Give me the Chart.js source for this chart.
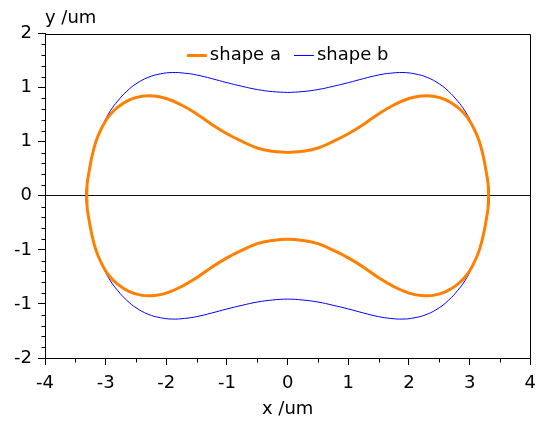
<!DOCTYPE html>
<html>
<head>
<meta charset="utf-8">
<script src="https://cdn.jsdelivr.net/npm/chart.js@4"></script>
<style>
  body { margin: 0; background: #fff; }
  #view-canvas { display: block; }
</style>
</head>
<body>
<canvas id="view-canvas" width="544" height="430"></canvas>
<script>
var canvas = document.getElementById('view-canvas');

// values
var seriesNames = ['shape a', 'shape b'];
var seriesColors = ['#ff8000', '#0000ff'];
var seriesWidths = [3, 1];

var shapeAX = [0, 0.25, 0.5, 0.75, 1.0, 1.25, 1.5, 1.75, 2.0, 2.2, 2.4, 2.6, 2.8, 2.95, 3.07, 3.16, 3.23, 3.28, 3.305, 3.31,
    3.305, 3.28, 3.23, 3.16, 3.07, 2.95, 2.8, 2.6, 2.4, 2.2, 2.0, 1.75, 1.5, 1.25, 1.0, 0.75, 0.5, 0.25, 0,
    -0.25, -0.5, -0.75, -1.0, -1.25, -1.5, -1.75, -2.0, -2.2, -2.4, -2.6, -2.8, -2.95, -3.07, -3.16, -3.23, -3.28, -3.305, -3.31,
    -3.305, -3.28, -3.23, -3.16, -3.07, -2.95, -2.8, -2.6, -2.4, -2.2, -2.0, -1.75, -1.5, -1.25, -1.0, -0.75, -0.5, -0.25, 0];
var shapeAY = [0.535, 0.55, 0.59, 0.67, 0.765, 0.88, 1.01, 1.12, 1.2, 1.23, 1.228, 1.186, 1.093, 0.98, 0.83, 0.67, 0.47, 0.27, 0.14, 0,
    -0.14, -0.27, -0.47, -0.67, -0.83, -0.98, -1.093, -1.186, -1.228, -1.23, -1.2, -1.12, -1.01, -0.88, -0.765, -0.67, -0.59, -0.55, -0.535,
    -0.55, -0.59, -0.67, -0.765, -0.88, -1.01, -1.12, -1.2, -1.23, -1.228, -1.186, -1.093, -0.98, -0.83, -0.67, -0.47, -0.27, -0.14, 0,
    0.14, 0.27, 0.47, 0.67, 0.83, 0.98, 1.093, 1.186, 1.228, 1.23, 1.2, 1.12, 1.01, 0.88, 0.765, 0.67, 0.59, 0.55, 0.535];

var shapeBX = [0, 0.25, 0.5, 0.75, 1.0, 1.25, 1.5, 1.7, 1.9, 2.1, 2.3, 2.5, 2.65, 2.8, 2.92, 3.03, 3.13, 3.21, 3.27, 3.31, 3.325,
    3.31, 3.27, 3.21, 3.13, 3.03, 2.92, 2.8, 2.65, 2.5, 2.3, 2.1, 1.9, 1.7, 1.5, 1.25, 1.0, 0.75, 0.5, 0.25, 0,
    -0.25, -0.5, -0.75, -1.0, -1.25, -1.5, -1.7, -1.9, -2.1, -2.3, -2.5, -2.65, -2.8, -2.92, -3.03, -3.13, -3.21, -3.27, -3.31, -3.325,
    -3.31, -3.27, -3.21, -3.13, -3.03, -2.92, -2.8, -2.65, -2.5, -2.3, -2.1, -1.9, -1.7, -1.5, -1.25, -1.0, -0.75, -0.5, -0.25, 0];
var shapeBY = [1.274, 1.285, 1.31, 1.35, 1.395, 1.445, 1.49, 1.512, 1.52, 1.503, 1.46, 1.38, 1.29, 1.17, 1.05, 0.9, 0.72, 0.53, 0.33, 0.15, 0,
    -0.15, -0.33, -0.53, -0.72, -0.9, -1.05, -1.17, -1.29, -1.38, -1.46, -1.503, -1.52, -1.512, -1.49, -1.445, -1.395, -1.35, -1.31, -1.285, -1.274,
    -1.285, -1.31, -1.35, -1.395, -1.445, -1.49, -1.512, -1.52, -1.503, -1.46, -1.38, -1.29, -1.17, -1.05, -0.9, -0.72, -0.53, -0.33, -0.15, 0,
    0.15, 0.33, 0.53, 0.72, 0.9, 1.05, 1.17, 1.29, 1.38, 1.46, 1.503, 1.52, 1.512, 1.49, 1.445, 1.395, 1.35, 1.31, 1.285, 1.274];

var xTickValues = [-4, -3, -2, -1, 0, 1, 2, 3, 4];
var yTickValues = [-2, -4 / 3, -2 / 3, 0, 2 / 3, 4 / 3, 2];
var xMinorPerMajor = 2;
var yMinorPerMajor = 5;

var fontFamily = "'DejaVu Sans', sans-serif";
var fontSize = 18;

function toPoints(xs, ys) {
    var data = [];
    xs.forEach(function (x, i) {
        data.push({ x: x, y: ys[i] });
    });
    return data;
}

Chart.defaults.font.family = fontFamily;
Chart.defaults.font.size = fontSize;
Chart.defaults.color = '#000';

// small ticks between the labelled ones, plus the frame on top and right
var frameAndMinor = {
    id: 'frameAndMinor',
    afterDraw: function (chart) {
        var ctx = chart.ctx;
        var a = chart.chartArea;
        var xs = chart.scales.x;
        var ys = chart.scales.y;
        var L = Math.round(a.left) + 0.5;
        var R = Math.round(a.right) + 0.5;
        var T = Math.round(a.top) + 0.5;
        var B = Math.round(a.bottom) + 0.5;
        ctx.save();
        ctx.strokeStyle = '#000';
        ctx.lineWidth = 1;
        ctx.beginPath();
        ctx.moveTo(L, T);
        ctx.lineTo(R, T);
        ctx.lineTo(R, B);
        for (var i = 0; i < yTickValues.length - 1; i++) {
            var step = (yTickValues[i + 1] - yTickValues[i]) / yMinorPerMajor;
            for (var k = 1; k < yMinorPerMajor; k++) {
                var py = Math.round(ys.getPixelForValue(yTickValues[i] + k * step)) + 0.5;
                ctx.moveTo(L - 4, py);
                ctx.lineTo(L, py);
            }
        }
        for (var j = 0; j < xTickValues.length - 1; j++) {
            var sx = (xTickValues[j + 1] - xTickValues[j]) / xMinorPerMajor;
            for (var m = 1; m < xMinorPerMajor; m++) {
                var px = Math.round(xs.getPixelForValue(xTickValues[j] + m * sx)) + 0.5;
                ctx.moveTo(px, B);
                ctx.lineTo(px, B + 4);
            }
        }
        ctx.stroke();
        ctx.restore();
    }
};

// horizontal legend drawn inside the plot, top centre
var insideLegend = {
    id: 'insideLegend',
    afterDraw: function (chart) {
        var ctx = chart.ctx;
        var a = chart.chartArea;
        var lineLen = 20, textGap = 3, itemGap = 13;
        ctx.save();
        ctx.font = fontSize + 'px ' + fontFamily;
        ctx.textBaseline = 'middle';
        ctx.textAlign = 'left';
        var items = chart.data.datasets.map(function (ds) {
            return { label: ds.label, color: ds.borderColor, width: ds.borderWidth, tw: ctx.measureText(ds.label).width };
        });
        var total = 0;
        items.forEach(function (it, i) {
            total += lineLen + textGap + it.tw + (i > 0 ? itemGap : 0);
        });
        var x = (a.left + a.right) / 2 - total / 2;
        var y = a.top + 21;
        items.forEach(function (it) {
            ctx.strokeStyle = it.color;
            ctx.lineWidth = it.width;
            ctx.beginPath();
            ctx.moveTo(x, Math.round(y) + (it.width % 2 ? 0.5 : 0));
            ctx.lineTo(x + lineLen, Math.round(y) + (it.width % 2 ? 0.5 : 0));
            ctx.stroke();
            ctx.fillStyle = '#000';
            ctx.fillText(it.label, x + lineLen + textGap, y + 1);
            x += lineLen + textGap + it.tw + itemGap;
        });
        ctx.restore();
    }
};

var myChart = new Chart(canvas, {
    type: 'scatter',
    data: {
        datasets: [{
            label: seriesNames[0],
            data: toPoints(shapeAX, shapeAY),
            showLine: true,
            borderColor: seriesColors[0],
            backgroundColor: seriesColors[0],
            borderWidth: seriesWidths[0],
            pointRadius: 0,
            tension: 0.45
        },
        {
            label: seriesNames[1],
            data: toPoints(shapeBX, shapeBY),
            showLine: true,
            borderColor: seriesColors[1],
            backgroundColor: seriesColors[1],
            borderWidth: seriesWidths[1],
            pointRadius: 0,
            tension: 0.45
        }]
    },
    options: {
        responsive: false,
        animation: false,
        layout: { padding: { left: 0, right: 6, top: 0, bottom: 0 } },
        scales: {
            x: {
                type: 'linear',
                position: 'bottom',
                min: -4,
                max: 4,
                afterBuildTicks: function (scale) {
                    scale.ticks = xTickValues.map(function (v) { return { value: v }; });
                },
                afterFit: function (scale) { scale.height = 72; },
                ticks: { padding: 8, maxRotation: 0 },
                grid: { drawOnChartArea: false, drawTicks: true, tickLength: 7, tickColor: '#000' },
                border: { display: true, color: '#000', width: 1 },
                title: { display: true, text: 'x /um', padding: { top: 4, bottom: 10 } }
            },
            y: {
                type: 'linear',
                min: -2,
                max: 2,
                afterBuildTicks: function (scale) {
                    scale.ticks = yTickValues.map(function (v) { return { value: v }; });
                },
                afterFit: function (scale) { scale.width = 45; },
                ticks: {
                    padding: 6,
                    callback: function (value) {
                        var r = Math.round(value);
                        return r === 0 ? '0' : String(r);
                    }
                },
                grid: {
                    drawOnChartArea: true,
                    drawTicks: true,
                    tickLength: 7,
                    tickColor: '#000',
                    lineWidth: 1,
                    color: function (c) {
                        return c.tick && Math.abs(c.tick.value) < 1e-9 ? '#111' : 'rgba(0,0,0,0)';
                    }
                },
                border: { display: true, color: '#000', width: 1 }
            }
        },
        plugins: {
            legend: { display: false },
            title: {
                display: true,
                text: 'y /um',
                position: 'top',
                align: 'start',
                fullSize: false,
                font: { weight: 'normal', size: fontSize },
                padding: { top: 8, bottom: 4 }
            },
            tooltip: { enabled: false }
        }
    },
    plugins: [frameAndMinor, insideLegend]
});
</script>
</body>
</html>
